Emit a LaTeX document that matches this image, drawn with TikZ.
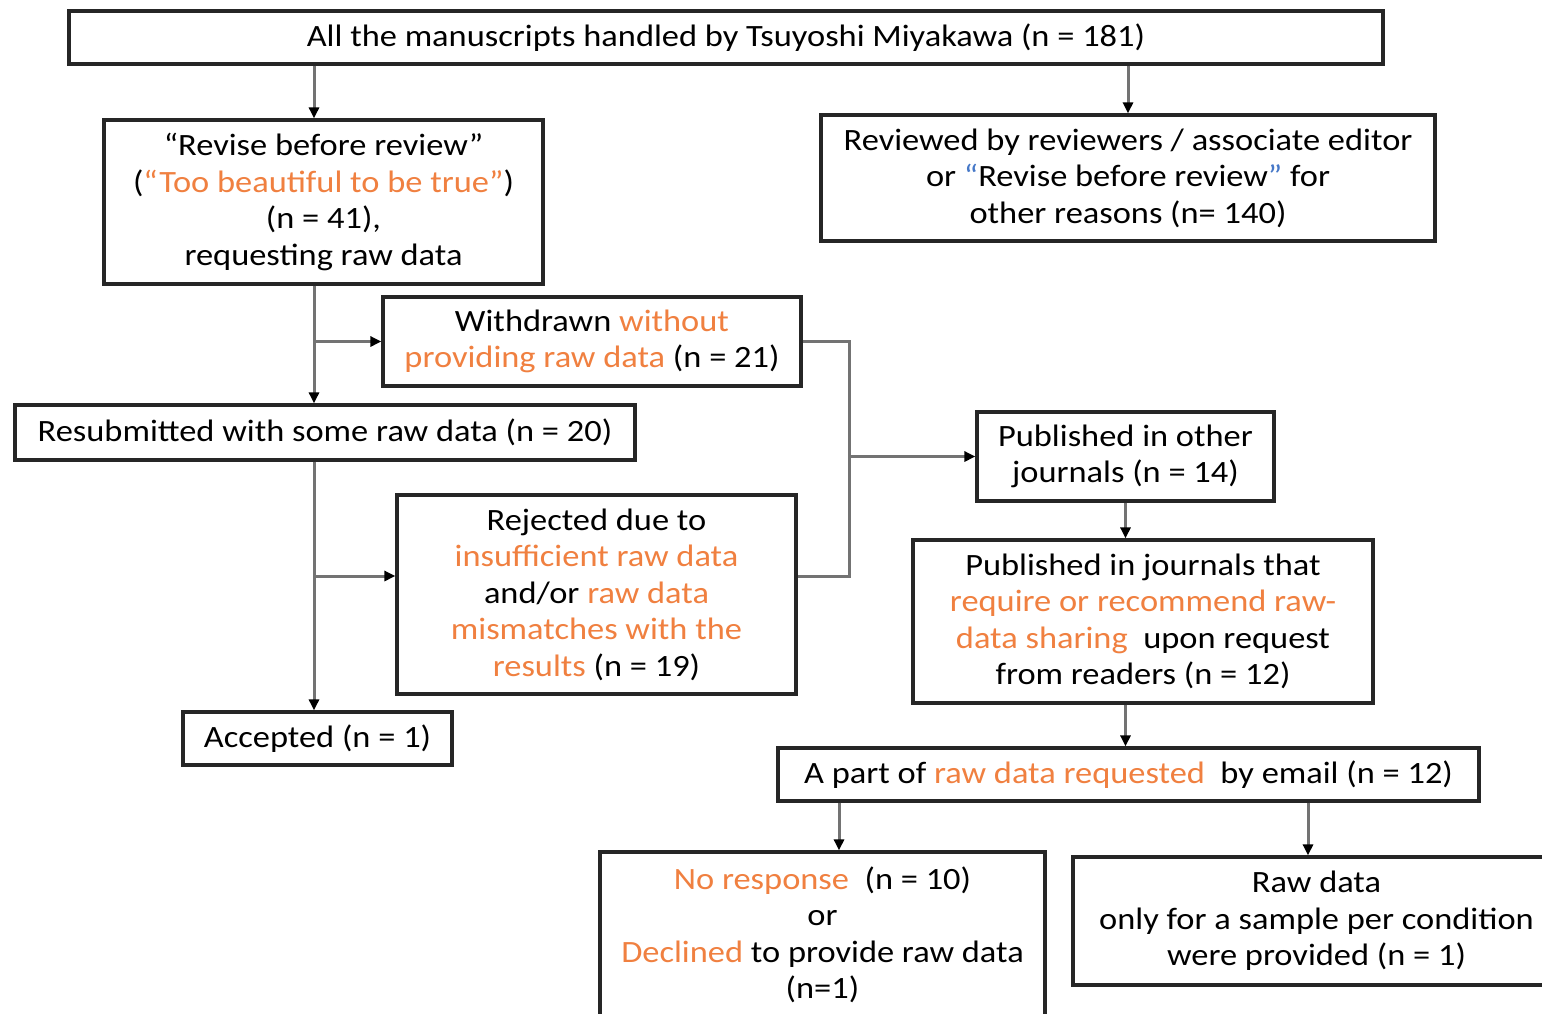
\documentclass[tikz,border=0pt]{standalone}
\usepackage{fontspec}
\setmainfont{Carlito}[FakeStretch=1.11]
\usetikzlibrary{arrows.meta,calc}
\definecolor{orng}{RGB}{240,128,64}
\definecolor{blu}{RGB}{70,120,200}
\begin{document}
\begin{tikzpicture}[x=1pt,y=-1pt,
  box/.style={draw=black!85,line width=3.2pt,rectangle,inner sep=0pt,align=center,
    font=\fontsize{31}{36.5}\selectfont},
  conn/.style={draw=black!55,line width=3pt},
  arr/.style={conn,-{Triangle[length=11pt,width=10pt,color=black]}}]
\path[use as bounding box,clip] (0,0) rectangle (1542,1013);
\fill[white] (0,0) rectangle (1542,1013);

\node[box,minimum width=1314,minimum height=53] (top) at (726,37.5)
  {All the manuscripts handled by Tsuyoshi Miyakawa (n = 181)};
\node[box,minimum width=439,minimum height=164] (rev) at (323.5,202)
  {“Revise before review”\\(\textcolor{orng}{“Too beautiful to be true”})\\(n = 41),\\requesting raw data};
\node[box,minimum width=614,minimum height=126] (revd) at (1128,178)
  {Reviewed by reviewers / associate editor\\or \textcolor{blu}{“}Revise before review\textcolor{blu}{”} for\\other reasons (n= 140)};
\node[box,minimum width=418,minimum height=89] (wd) at (592,341.5)
  {Withdrawn \textcolor{orng}{without}\\\textcolor{orng}{providing raw data} (n = 21)};
\node[box,minimum width=620,minimum height=55] (resub) at (325,432.5)
  {Resubmitted with some raw data (n = 20)};
\node[box,minimum width=399,minimum height=199] (rej) at (596.5,594.5)
  {Rejected due to\\\textcolor{orng}{insufficient raw data}\\and/or \textcolor{orng}{raw data}\\\textcolor{orng}{mismatches with the}\\\textcolor{orng}{results} (n = 19)};
\node[box,minimum width=269,minimum height=53] (acc) at (317.5,738.5)
  {Accepted (n = 1)};
\node[box,minimum width=297,minimum height=89] (pub) at (1125.5,456.5)
  {Published in other\\journals (n = 14)};
\node[box,minimum width=460,minimum height=163] (pubj) at (1143,621.5)
  {Published in journals that\\\textcolor{orng}{require or recommend raw-}\\\textcolor{orng}{data sharing}~ upon request\\from readers (n = 12)};
\node[box,minimum width=701,minimum height=53] (part) at (1128.5,774.5)
  {A part of \textcolor{orng}{raw data requested}~ by email (n = 12)};
\node[box,minimum width=445,minimum height=166] (nor) at (822.5,935)
  {\textcolor{orng}{No response}~ (n = 10)\\or\\\textcolor{orng}{Declined} to provide raw data\\(n=1)};
\node[box,minimum width=487,minimum height=128] (raw) at (1316.5,921)
  {Raw data\\only for a sample per condition\\were provided (n = 1)};

\coordinate (xa) at (314,0);
\coordinate (xb) at (1128,0);
\coordinate (yb) at (0,576);
\coordinate (xm) at (849,0);
\coordinate (xc) at (839,0);
\coordinate (xd) at (1308,0);

\draw[arr] (top.south -| xa) -- (rev.north -| xa);
\draw[arr] (top.south -| xb) -- (revd.north -| xb);
\draw[arr] (rev.south -| xa) -- (resub.north -| xa);
\draw[arr] (xa |- wd.west) -- (wd.west);
\draw[arr] (resub.south -| xa) -- (acc.north -| xa);
\draw[arr] (xa |- yb) -- (rej.west |- yb);
\draw[conn] (wd.east) -| (xm |- yb) -- (rej.east |- yb);
\draw[arr] (xm |- pub.west) -- (pub.west);
\draw[arr] (pub.south) -- (pubj.north -| pub.south);
\draw[arr] (pubj.south -| pub.south) -- (part.north -| pub.south);
\draw[arr] (part.south -| xc) -- (nor.north -| xc);
\draw[arr] (part.south -| xd) -- (raw.north -| xd);
\end{tikzpicture}
\end{document}
